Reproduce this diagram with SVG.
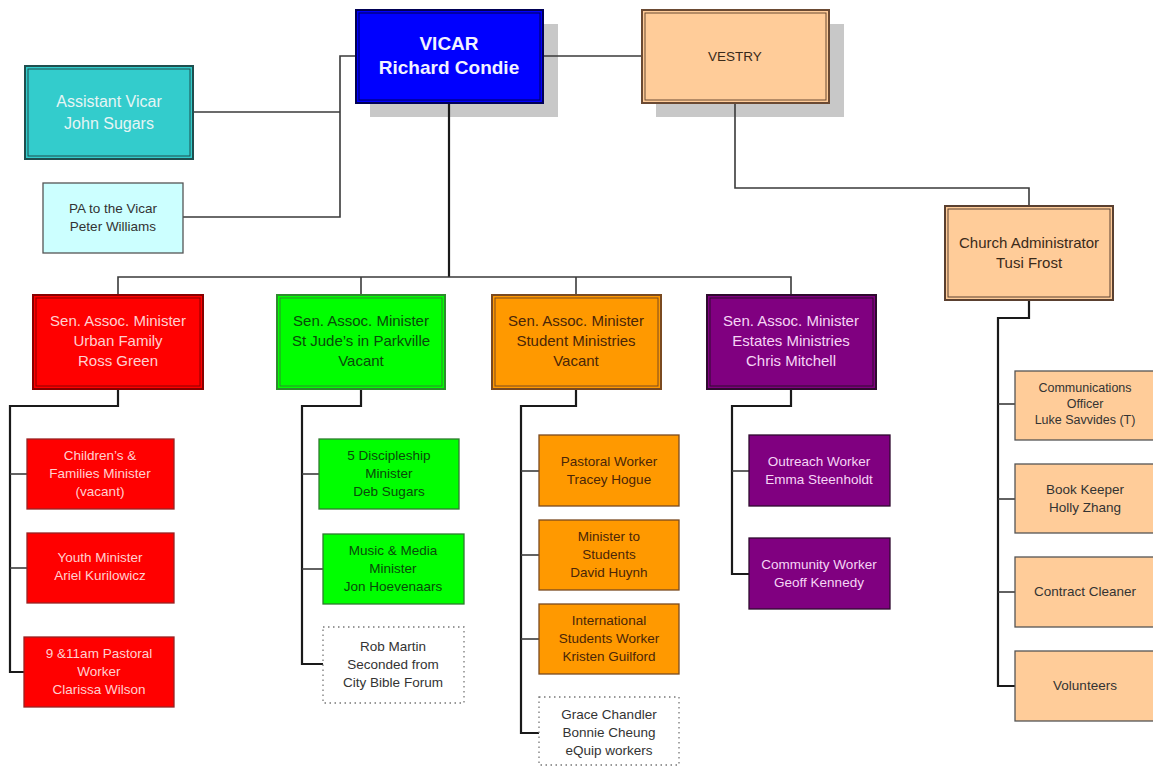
<svg xmlns="http://www.w3.org/2000/svg" width="1153" height="767" viewBox="0 0 1153 767">
<style>
text{font-family:"Liberation Sans",Arial,sans-serif;text-anchor:middle}
.c{fill:none;stroke:#3a3a3a;stroke-width:1.6}
.ct{fill:none;stroke:#1a1a1a;stroke-width:2.2}
.sh{fill:#c8c8c8}
.sen{font-size:15px}
.sub{font-size:13.5px}
.adm{font-size:13.5px;fill:#333}
.dot{fill:#fff;stroke:#777;stroke-width:1.3;stroke-dasharray:1.5 3.5}
</style>
<rect width="1153" height="767" fill="#fff"/>

<g id="shadows">
  <rect class="sh" x="370" y="24" width="188" height="93"/>
  <rect class="sh" x="656" y="24" width="188" height="93"/>
</g>

<g id="connectors">
  <polyline class="c" points="356,56 340,56 340,217 183,217"/>
  <line class="c" x1="193" y1="112" x2="340" y2="112"/>
  <line class="c" x1="543" y1="56" x2="642" y2="56"/>
  <polyline class="c" points="735,103 735,188 1029,188 1029,207"/>
  <polyline class="ct" points="449,103 449,277"/>
  <polyline class="c" points="118,295 118,277 791,277 791,295"/>
  <line class="c" x1="361" y1="277" x2="361" y2="295"/>
  <line class="c" x1="576" y1="277" x2="576" y2="295"/>
  <polyline class="ct" points="118,389 118,406 10,406 10,672 24,672"/>
  <line class="c" x1="10" y1="474" x2="27" y2="474"/>
  <line class="c" x1="10" y1="568" x2="27" y2="568"/>
  <polyline class="ct" points="361,389 361,406 302,406 302,664 323,664"/>
  <line class="c" x1="302" y1="474" x2="319" y2="474"/>
  <line class="c" x1="302" y1="569" x2="323" y2="569"/>
  <polyline class="ct" points="576,389 576,406 521,406 521,733 539,733"/>
  <line class="c" x1="521" y1="471" x2="539" y2="471"/>
  <line class="c" x1="521" y1="555" x2="539" y2="555"/>
  <line class="c" x1="521" y1="639" x2="539" y2="639"/>
  <polyline class="ct" points="791,389 791,406 732,406 732,574 749,574"/>
  <line class="c" x1="732" y1="471" x2="749" y2="471"/>
  <polyline class="ct" points="1029,300 1029,318 998,318 998,686 1015,686"/>
  <line class="c" x1="998" y1="404" x2="1015" y2="404"/>
  <line class="c" x1="998" y1="499" x2="1015" y2="499"/>
  <line class="c" x1="998" y1="592" x2="1015" y2="592"/>
</g>

<g id="vicar">
  <rect x="356" y="10" width="187" height="93" fill="#0000ff" stroke="#000055" stroke-width="2"/>
  <rect x="359" y="13" width="181" height="87" fill="none" stroke="#000055" stroke-width="1"/>
  <text x="449" y="50" font-size="19" font-weight="bold" fill="#f2f2ff">VICAR</text>
  <text x="449" y="74" font-size="19" font-weight="bold" fill="#f2f2ff">Richard Condie</text>
</g>

<g id="vestry">
  <rect x="642" y="10" width="187" height="93" fill="#ffcc99" stroke="#6b4a33" stroke-width="2"/>
  <rect x="645" y="13" width="181" height="87" fill="none" stroke="#6b4a33" stroke-width="1"/>
  <text x="735" y="61" font-size="13.5" fill="#3a2a1a">VESTRY</text>
</g>

<g id="assistant-vicar">
  <rect x="25" y="66" width="168" height="93" fill="#33cccc" stroke="#1f4f4f" stroke-width="2"/>
  <rect x="28" y="69" width="162" height="87" fill="none" stroke="#1f4f4f" stroke-width="1"/>
  <text x="109" y="107" font-size="16" fill="#e6f5f5">Assistant Vicar</text>
  <text x="109" y="129" font-size="16" fill="#e6f5f5">John Sugars</text>
</g>

<g id="pa">
  <rect x="43" y="183" width="140" height="70" fill="#ccffff" stroke="#555" stroke-width="1.3"/>
  <text x="113" y="213" font-size="13.5" fill="#333">PA to the Vicar</text>
  <text x="113" y="231" font-size="13.5" fill="#333">Peter Williams</text>
</g>

<g id="admin">
  <rect x="945" y="206" width="168" height="94" fill="#ffcc99" stroke="#5a4030" stroke-width="2"/>
  <rect x="948" y="209" width="162" height="88" fill="none" stroke="#5a4030" stroke-width="1"/>
  <text x="1029" y="248" font-size="15" fill="#3a2a1a">Church Administrator</text>
  <text x="1029" y="268" font-size="15" fill="#3a2a1a">Tusi Frost</text>
</g>

<g id="sen-urban">
  <rect x="33" y="295" width="170" height="94" fill="#ff0000" stroke="#880000" stroke-width="2"/>
  <rect x="36" y="298" width="164" height="88" fill="none" stroke="#880000" stroke-width="1"/>
  <text class="sen" x="118" y="326" fill="#ffd0d0">Sen. Assoc. Minister</text>
  <text class="sen" x="118" y="346" fill="#ffd0d0">Urban Family</text>
  <text class="sen" x="118" y="366" fill="#ffd0d0">Ross Green</text>
</g>

<g id="sen-stjude">
  <rect x="277" y="295" width="168" height="94" fill="#00ff00" stroke="#2e8b2e" stroke-width="2"/>
  <rect x="280" y="298" width="162" height="88" fill="none" stroke="#2e8b2e" stroke-width="1"/>
  <text class="sen" x="361" y="326" fill="#0a4a0a">Sen. Assoc. Minister</text>
  <text class="sen" x="361" y="346" fill="#0a4a0a">St Jude’s in Parkville</text>
  <text class="sen" x="361" y="366" fill="#0a4a0a">Vacant</text>
</g>

<g id="sen-student">
  <rect x="492" y="295" width="169" height="94" fill="#ff9900" stroke="#7a4a20" stroke-width="2"/>
  <rect x="495" y="298" width="163" height="88" fill="none" stroke="#7a4a20" stroke-width="1"/>
  <text class="sen" x="576" y="326" fill="#4a2608">Sen. Assoc. Minister</text>
  <text class="sen" x="576" y="346" fill="#4a2608">Student Ministries</text>
  <text class="sen" x="576" y="366" fill="#4a2608">Vacant</text>
</g>

<g id="sen-estates">
  <rect x="707" y="295" width="169" height="94" fill="#800080" stroke="#2e0a2e" stroke-width="2"/>
  <rect x="710" y="298" width="163" height="88" fill="none" stroke="#2e0a2e" stroke-width="1"/>
  <text class="sen" x="791" y="326" fill="#f5d5f5">Sen. Assoc. Minister</text>
  <text class="sen" x="791" y="346" fill="#f5d5f5">Estates Ministries</text>
  <text class="sen" x="791" y="366" fill="#f5d5f5">Chris Mitchell</text>
</g>

<g id="childrens">
  <rect x="27" y="439" width="147" height="70" fill="#ff0000" stroke="#992222" stroke-width="1.3"/>
  <text class="sub" x="100" y="460" fill="#ffd0d0">Children’s &amp;</text>
  <text class="sub" x="100" y="478" fill="#ffd0d0">Families Minister</text>
  <text class="sub" x="100" y="496" fill="#ffd0d0">(vacant)</text>
</g>
<g id="youth">
  <rect x="27" y="533" width="147" height="70" fill="#ff0000" stroke="#992222" stroke-width="1.3"/>
  <text class="sub" x="100" y="562" fill="#ffd0d0">Youth Minister</text>
  <text class="sub" x="100" y="580" fill="#ffd0d0">Ariel Kurilowicz</text>
</g>
<g id="pastoral-9-11">
  <rect x="24" y="637" width="150" height="70" fill="#ff0000" stroke="#992222" stroke-width="1.3"/>
  <text class="sub" x="99" y="658" fill="#ffd0d0">9 &amp;11am Pastoral</text>
  <text class="sub" x="99" y="676" fill="#ffd0d0">Worker</text>
  <text class="sub" x="99" y="694" fill="#ffd0d0">Clarissa Wilson</text>
</g>

<g id="discipleship">
  <rect x="319" y="439" width="140" height="70" fill="#00ff00" stroke="#2e7a2e" stroke-width="1.3"/>
  <text class="sub" x="389" y="460" fill="#0a4a0a">5 Discipleship</text>
  <text class="sub" x="389" y="478" fill="#0a4a0a">Minister</text>
  <text class="sub" x="389" y="496" fill="#0a4a0a">Deb Sugars</text>
</g>
<g id="music">
  <rect x="323" y="534" width="141" height="70" fill="#00ff00" stroke="#2e7a2e" stroke-width="1.3"/>
  <text class="sub" x="393" y="555" fill="#0a4a0a">Music &amp; Media</text>
  <text class="sub" x="393" y="573" fill="#0a4a0a">Minister</text>
  <text class="sub" x="393" y="591" fill="#0a4a0a">Jon Hoevenaars</text>
</g>
<g id="rob-martin">
  <rect class="dot" x="323" y="627" width="141" height="76"/>
  <text class="sub" x="393" y="651" fill="#333">Rob Martin</text>
  <text class="sub" x="393" y="669" fill="#333">Seconded from</text>
  <text class="sub" x="393" y="687" fill="#333">City Bible Forum</text>
</g>

<g id="pastoral-worker">
  <rect x="539" y="435" width="140" height="71" fill="#ff9900" stroke="#7a4a20" stroke-width="1.3"/>
  <text class="sub" x="609" y="466" fill="#4a2608">Pastoral Worker</text>
  <text class="sub" x="609" y="484" fill="#4a2608">Tracey Hogue</text>
</g>
<g id="minister-students">
  <rect x="539" y="520" width="140" height="70" fill="#ff9900" stroke="#7a4a20" stroke-width="1.3"/>
  <text class="sub" x="609" y="541" fill="#4a2608">Minister to</text>
  <text class="sub" x="609" y="559" fill="#4a2608">Students</text>
  <text class="sub" x="609" y="577" fill="#4a2608">David Huynh</text>
</g>
<g id="international">
  <rect x="539" y="604" width="140" height="70" fill="#ff9900" stroke="#7a4a20" stroke-width="1.3"/>
  <text class="sub" x="609" y="625" fill="#4a2608">International</text>
  <text class="sub" x="609" y="643" fill="#4a2608">Students Worker</text>
  <text class="sub" x="609" y="661" fill="#4a2608">Kristen Guilford</text>
</g>
<g id="equip">
  <rect class="dot" x="539" y="697" width="140" height="68"/>
  <text class="sub" x="609" y="719" fill="#333">Grace Chandler</text>
  <text class="sub" x="609" y="737" fill="#333">Bonnie Cheung</text>
  <text class="sub" x="609" y="755" fill="#333">eQuip workers</text>
</g>

<g id="outreach">
  <rect x="749" y="435" width="141" height="71" fill="#800080" stroke="#2e0a2e" stroke-width="1.3"/>
  <text class="sub" x="819" y="466" fill="#f5d5f5">Outreach Worker</text>
  <text class="sub" x="819" y="484" fill="#f5d5f5">Emma Steenholdt</text>
</g>
<g id="community">
  <rect x="749" y="538" width="141" height="71" fill="#800080" stroke="#2e0a2e" stroke-width="1.3"/>
  <text class="sub" x="819" y="569" fill="#f5d5f5">Community Worker</text>
  <text class="sub" x="819" y="587" fill="#f5d5f5">Geoff Kennedy</text>
</g>

<g id="comms">
  <rect x="1015" y="371" width="142" height="69" fill="#ffcc99" stroke="#555" stroke-width="1.3"/>
  <text x="1085" y="392" font-size="12.5" fill="#333">Communications</text>
  <text x="1085" y="408" font-size="12.5" fill="#333">Officer</text>
  <text x="1085" y="424" font-size="12.5" fill="#333">Luke Savvides (T)</text>
</g>
<g id="bookkeeper">
  <rect x="1015" y="464" width="142" height="69" fill="#ffcc99" stroke="#555" stroke-width="1.3"/>
  <text class="adm" x="1085" y="494">Book Keeper</text>
  <text class="adm" x="1085" y="512">Holly Zhang</text>
</g>
<g id="cleaner">
  <rect x="1015" y="557" width="142" height="70" fill="#ffcc99" stroke="#555" stroke-width="1.3"/>
  <text class="adm" x="1085" y="596">Contract Cleaner</text>
</g>
<g id="volunteers">
  <rect x="1015" y="651" width="142" height="70" fill="#ffcc99" stroke="#555" stroke-width="1.3"/>
  <text class="adm" x="1085" y="690">Volunteers</text>
</g>
</svg>
